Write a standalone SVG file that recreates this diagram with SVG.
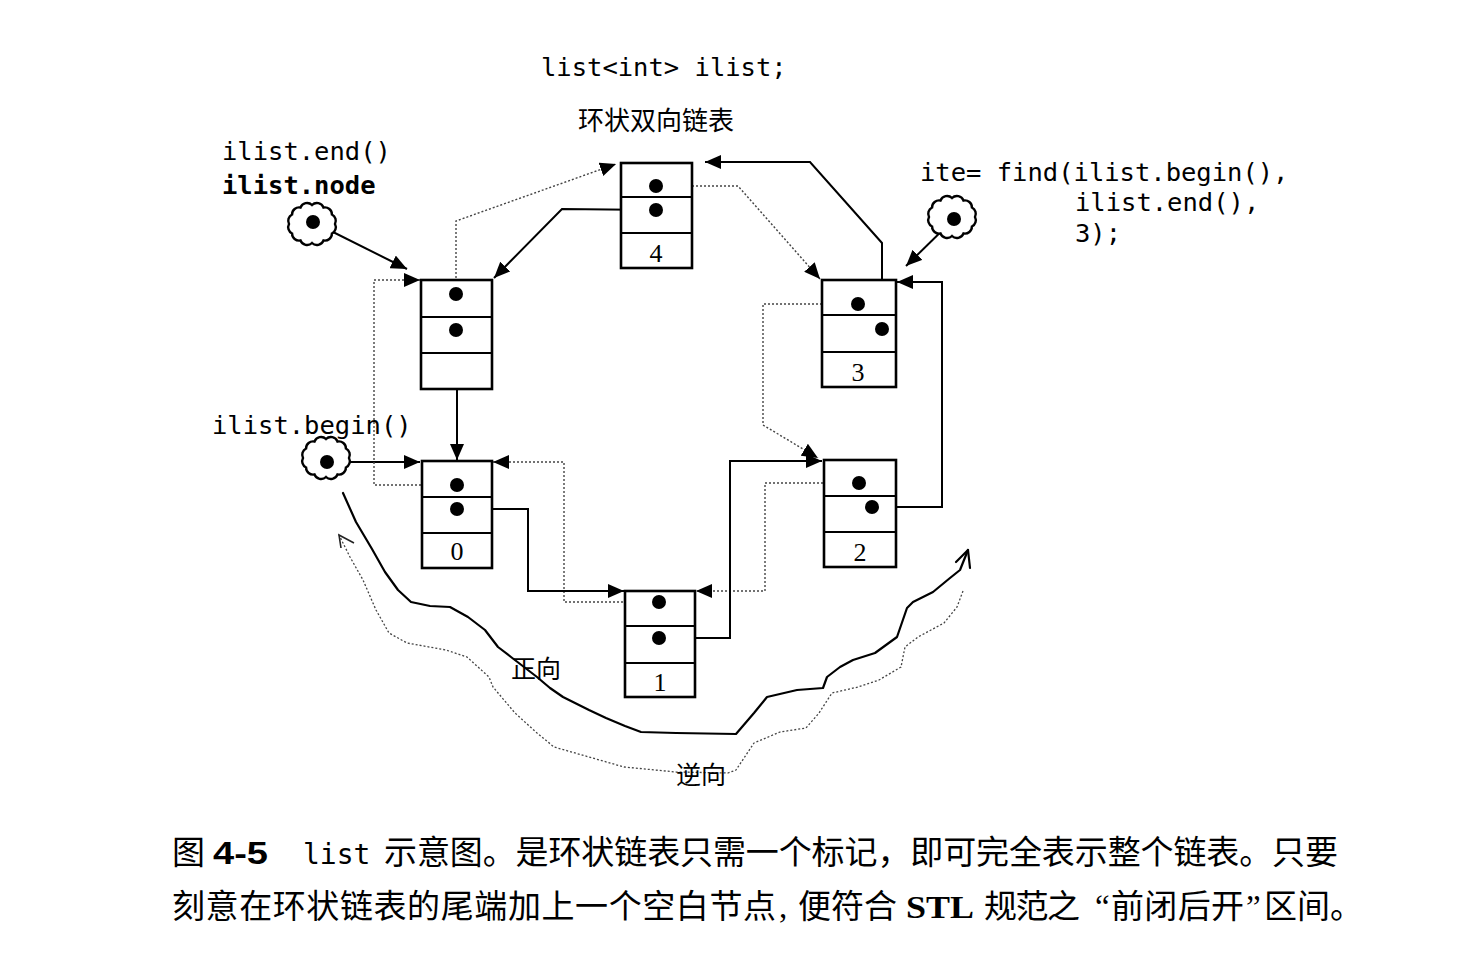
<svg xmlns="http://www.w3.org/2000/svg" width="1483" height="967" viewBox="0 0 1483 967">
<style>
.box{fill:#fff;stroke:#000;stroke-width:2.6}
.sep{stroke:#000;stroke-width:2.2}
.dot{fill:#000}
.solid{fill:none;stroke:#000;stroke-width:2;marker-end:url(#ah)}
.dotted{fill:none;stroke:#444;stroke-width:1.4;stroke-dasharray:2 2;marker-end:url(#ah)}
.curve{fill:none;stroke:#000;stroke-width:2.2;stroke-linejoin:round;stroke-linecap:round}
.dcurve{fill:none;stroke:#444;stroke-width:1.3;stroke-dasharray:2 2;stroke-linejoin:round}
.cloud{fill:#fff;stroke:#000;stroke-width:2.4}
.mono{font-family:"DejaVu Sans Mono","Liberation Mono",monospace;font-size:25.5px;fill:#000}
.num{font-family:"Liberation Serif",serif;font-size:26px;text-anchor:middle;fill:#000}
.cjk{font-family:"Noto Sans CJK SC",sans-serif;fill:#000}
.cap{font-family:"Noto Sans CJK SC",sans-serif;font-size:33px;fill:#000}
.capq{font-family:"Liberation Serif","Times New Roman",serif;font-size:33px;fill:#000}
</style>
<defs>
<marker id="ah" markerUnits="userSpaceOnUse" markerWidth="16" markerHeight="14" refX="16" refY="7" orient="auto">
<path d="M0,0 L16,7 L0,14 z" fill="#000"/>
</marker>
<path id="cloudshape" class="cloud" d="M23,0 A7,7 0 0 1 19.92,9.5 A7,7 0 0 1 11.5,16.45 A7,7 0 0 1 0,19 A7,7 0 0 1 -11.5,16.45 A7,7 0 0 1 -19.92,9.5 A7,7 0 0 1 -23,0 A7,7 0 0 1 -19.92,-9.5 A7,7 0 0 1 -11.5,-16.45 A7,7 0 0 1 0,-19 A7,7 0 0 1 11.5,-16.45 A7,7 0 0 1 19.92,-9.5 A7,7 0 0 1 23,0 Z"/>
</defs>
<rect width="1483" height="967" fill="#fff"/>

<g id="labels">
<text class="mono" x="541" y="76">list&lt;int&gt; ilist;</text>
<text class="cjk" x="578" y="130" font-size="26">环状双向链表</text>
<text class="mono" x="222" y="160">ilist.end()</text>
<text class="mono" x="222" y="194" font-weight="bold">ilist.node</text>
<text class="mono" x="212" y="434">ilist.begin()</text>
<text class="mono" x="920" y="181" xml:space="preserve">ite= find(ilist.begin(),</text>
<text class="mono" x="1075" y="211">ilist.end(),</text>
<text class="mono" x="1075" y="242">3);</text>
</g>

<g id="connectors">
<path class="solid" d="M313,222 L407,269"/>
<path class="solid" d="M954,219 L906,266"/>
<path class="solid" d="M327,462 L420,462"/>
<path class="solid" d="M457,330 L457,460"/>
<path class="dotted" d="M456,294 L456,221 L616,164"/>
<path class="solid" d="M656,210 L562,209 L494,278"/>
<path class="dotted" d="M656,186 L738,186 L820,279"/>
<path class="solid" d="M882,329 L882,243 L810,162 L705,162"/>
<path class="dotted" d="M858,304 L763,304 L763,425 L818,458"/>
<path class="solid" d="M872,507 L942,507 L942,282 L897,282"/>
<path class="dotted" d="M859,483 L765,483 L765,591 L696,591"/>
<path class="solid" d="M659,638 L730,638 L730,461 L822,461"/>
<path class="dotted" d="M659,602 L564,602 L564,462 L493,462"/>
<path class="solid" d="M457,509 L528,509 L528,591 L624,591"/>
<path class="dotted" d="M457,485 L374,485 L374,280 L420,280"/>
</g>

<g id="cloud-end"><use href="#cloudshape" transform="translate(312,224)"/><circle class="dot" cx="313" cy="222" r="7"/></g>
<g id="cloud-ite"><use href="#cloudshape" transform="translate(952,217)"/><circle class="dot" cx="954" cy="219" r="7"/></g>
<g id="cloud-begin"><use href="#cloudshape" transform="translate(326,458)"/><circle class="dot" cx="327" cy="462" r="7"/></g>

<g id="node-end">
<rect class="box" x="421" y="280" width="71" height="109"/>
<line class="sep" x1="421" y1="317" x2="492" y2="317"/>
<line class="sep" x1="421" y1="353" x2="492" y2="353"/>
<circle class="dot" cx="456" cy="294" r="7"/>
<circle class="dot" cx="456" cy="330" r="7"/>
</g>
<g id="node-4">
<rect class="box" x="621" y="163" width="71" height="105"/>
<line class="sep" x1="621" y1="197" x2="692" y2="197"/>
<line class="sep" x1="621" y1="233" x2="692" y2="233"/>
<circle class="dot" cx="656" cy="186" r="7"/>
<circle class="dot" cx="656" cy="210" r="7"/>
<text class="num" x="656" y="262">4</text>
</g>
<g id="node-3">
<rect class="box" x="822" y="280" width="74" height="107"/>
<line class="sep" x1="822" y1="315" x2="896" y2="315"/>
<line class="sep" x1="822" y1="352" x2="896" y2="352"/>
<circle class="dot" cx="858" cy="304" r="7"/>
<circle class="dot" cx="882" cy="329" r="7"/>
<text class="num" x="858" y="381">3</text>
</g>
<g id="node-0">
<rect class="box" x="422" y="461" width="70" height="107"/>
<line class="sep" x1="422" y1="497" x2="492" y2="497"/>
<line class="sep" x1="422" y1="533" x2="492" y2="533"/>
<circle class="dot" cx="457" cy="485" r="7"/>
<circle class="dot" cx="457" cy="509" r="7"/>
<text class="num" x="457" y="560">0</text>
</g>
<g id="node-1">
<rect class="box" x="625" y="591" width="70" height="106"/>
<line class="sep" x1="625" y1="626" x2="695" y2="626"/>
<line class="sep" x1="625" y1="663" x2="695" y2="663"/>
<circle class="dot" cx="659" cy="602" r="7"/>
<circle class="dot" cx="659" cy="638" r="7"/>
<text class="num" x="660" y="691">1</text>
</g>
<g id="node-2">
<rect class="box" x="824" y="460" width="72" height="107"/>
<line class="sep" x1="824" y1="496" x2="896" y2="496"/>
<line class="sep" x1="824" y1="532" x2="896" y2="532"/>
<circle class="dot" cx="859" cy="483" r="7"/>
<circle class="dot" cx="872" cy="507" r="7"/>
<text class="num" x="860" y="561">2</text>
</g>

<g id="forward">
<polyline class="curve" points="343,493 356,522 372,549 385,572 398,590 411,602 430,606 450,607 468,617 485,630 498,647 511,657 524,667 537,677 550,688 563,697 589,710 606,718 625,726 641,732 676,733 736,734 754,713 767,697 797,690 823,688 827,677 840,667 853,660 875,653 897,637 907,608 913,602 933,592 950,578 960,570 968,550"/>
<polyline class="curve" points="956,562 968,550 970,568"/>
<text class="cjk" x="511" y="678" font-size="25">正向</text>
</g>
<g id="reverse">
<polyline class="dcurve" points="963,591 957,607 944,623 918,637 905,647 901,667 879,680 858,687 832,693 819,713 806,728 780,732 754,743 736,770 728,773 676,772 624,767 589,757 554,747 537,733 515,713 493,687 489,677 467,657 446,650 407,643 389,633 376,610 363,580 350,557 339,535"/>
<polyline fill="none" stroke="#222" stroke-width="1.6" points="341,548 339,535 354,543"/>
<text class="cjk" x="676" y="784" font-size="25">逆向</text>
</g>

<g id="caption">
<text class="cap" x="172" y="864">图</text>
<text x="213" y="864" font-family="'Liberation Sans',Arial,sans-serif" font-weight="bold" font-size="31" textLength="55" lengthAdjust="spacingAndGlyphs">4-5</text>
<text x="303" y="864" font-family="'DejaVu Sans Mono','Liberation Mono',monospace" font-size="28">list</text>
<text class="cap" x="384" y="864" textLength="954">示意图。是环状链表只需一个标记，即可完全表示整个链表。只要</text>
<text class="cap" x="172" y="918" textLength="604">刻意在环状链表的尾端加上一个空白节点</text>
<text class="capq" x="779" y="918">,</text>
<text class="cap" x="798" y="918">便符合</text>
<text x="906" y="918" font-family="'Liberation Serif','Times New Roman',serif" font-weight="bold" font-size="32" textLength="68" lengthAdjust="spacingAndGlyphs">STL</text>
<text class="cap" x="984" y="918" textLength="96">规范之</text>
<text class="capq" x="1095" y="918">“</text>
<text class="cap" x="1111" y="918" textLength="133">前闭后开</text>
<text class="capq" x="1246" y="918">”</text>
<text class="cap" x="1264" y="918">区间。</text>
</g>
</svg>
